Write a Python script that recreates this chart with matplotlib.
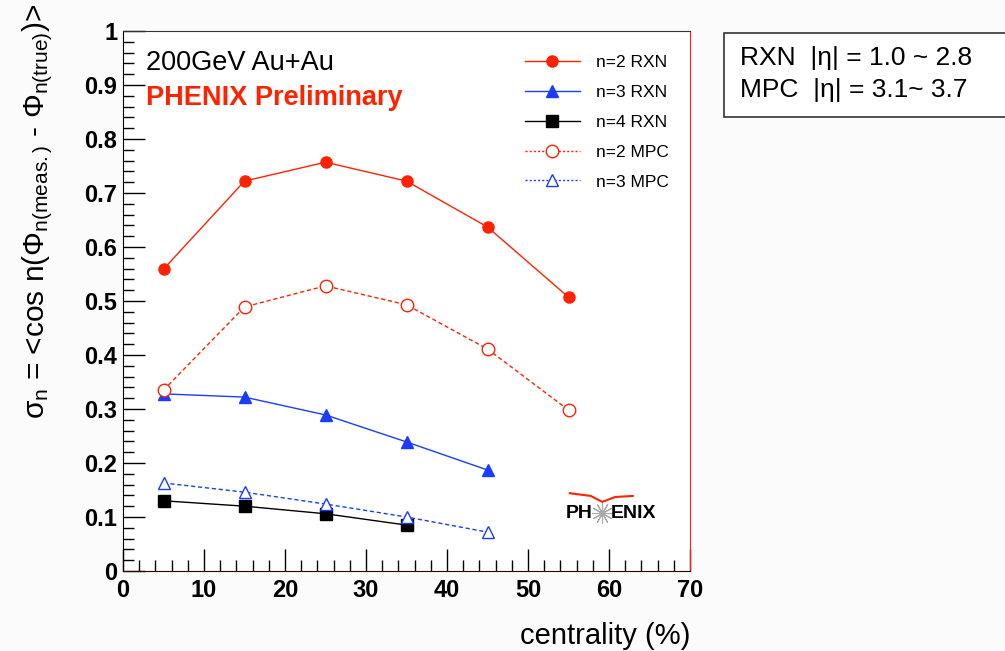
import numpy as np
import matplotlib.pyplot as plt
from matplotlib.ticker import MultipleLocator
from matplotlib.patches import Rectangle

plt.rcParams['font.family'] = ['Liberation Sans', 'DejaVu Sans']
plt.rcParams['mathtext.fontset'] = 'custom'
plt.rcParams['mathtext.rm'] = 'Liberation Sans'
plt.rcParams['mathtext.it'] = 'Liberation Sans'

# centrality bin centres (%)
cent6 = [5, 15, 25, 35, 45, 55]
cent5 = [5, 15, 25, 35, 45]
cent4 = [5, 15, 25, 35]

n2_rxn = [0.559, 0.722, 0.757, 0.722, 0.637, 0.507]
n3_rxn = [0.328, 0.322, 0.289, 0.239, 0.187]
n4_rxn = [0.130, 0.120, 0.106, 0.085]
n2_mpc = [0.335, 0.489, 0.528, 0.493, 0.411, 0.298]
n3_mpc = [0.163, 0.146, 0.124, 0.100, 0.072]

red = "#ff2200"
blue = "#1a3cff"

fig = plt.figure(figsize=(10.05, 6.51), dpi=100, facecolor="#fbfbfb")
ax = fig.add_axes([0.1224, 0.1229, 0.5642, 0.8295])
ax.set_facecolor("white")

ax.plot(cent6, n2_rxn, color=red, lw=1, marker="o", ms=8, label="n=2 RXN")
ax.plot(cent5, n3_rxn, color=blue, lw=1, marker="^", ms=8, label="n=3 RXN")
ax.plot(cent4, n4_rxn, color="black", lw=1, marker="s", ms=8, label="n=4 RXN")
ax.plot(cent6, n2_mpc, color=red, lw=1, ls=(0, (3, 2)), marker="o", ms=9,
        mfc="white", mec=red, label="n=2 MPC")
ax.plot(cent5, n3_mpc, color=blue, lw=1, ls=(0, (3, 2)), marker="^", ms=9,
        mfc="white", mec=blue, label="n=3 MPC")

ax.set_xlim(0, 70)
ax.set_ylim(0, 1)
ax.xaxis.set_major_locator(MultipleLocator(10))
ax.xaxis.set_minor_locator(MultipleLocator(2))
ax.yaxis.set_minor_locator(MultipleLocator(0.02))
ax.set_yticks(np.arange(0, 1.01, 0.1))
ax.set_yticklabels(["0", "0.1", "0.2", "0.3", "0.4", "0.5", "0.6", "0.7", "0.8", "0.9", "1"])
ax.tick_params(which="both", direction="in", top=False, right=False)
ax.tick_params(which="major", length=16, width=1, labelsize=17, pad=4)
ax.tick_params(axis="x", which="major", pad=6)
ax.tick_params(which="minor", length=8, width=1)
for lab in ax.get_xticklabels() + ax.get_yticklabels():
    lab.set_fontweight("bold")

ax.spines["right"].set_color(red)
ax.spines["bottom"].set_color("#330000")
ax.spines["left"].set_color("black")
ax.spines["top"].set_color("#333333")

ax.set_xlabel("centrality (%)", fontsize=21, loc="right", labelpad=14)
fig.text(0.038, 0.995,
         r"$\sigma_n$ = <cos n($\Phi_{n(meas.)}$ - $\Phi_{n(true)}$)>",
         rotation=90, fontsize=21.5, ha="center", va="top")

ax.text(0.04, 0.94, "200GeV Au+Au", transform=ax.transAxes, fontsize=19.5,
        va="center")
ax.text(0.04, 0.876, "PHENIX Preliminary", transform=ax.transAxes,
        fontsize=19.5, fontweight="bold", color=red, va="center")

ax.legend(loc="upper right", bbox_to_anchor=(0.99, 0.985), frameon=False,
          fontsize=12.5, handlelength=3.2, handletextpad=0.9, labelspacing=0.85,
          numpoints=1)
leg = ax.get_legend()
for h in leg.get_lines()[3:]:
    h.set_linestyle((0, (1.5, 1.5)))

# PHENIX logo
ax.text(0.829, 0.107, "PH", transform=ax.transAxes, fontsize=14,
        fontweight="bold", ha="right", va="center")
ax.text(0.861, 0.107, "ENIX", transform=ax.transAxes, fontsize=14,
        fontweight="bold", ha="left", va="center")
ax.plot([0.845], [0.107], transform=ax.transAxes, marker=(12, 2, 0), ms=15,
        color="#aaaaaa", mew=0.8)
arc_x = np.array([0.788, 0.825, 0.845, 0.868, 0.899])
arc_y = np.array([0.144, 0.139, 0.128, 0.137, 0.139])
ax.plot(arc_x, arc_y, transform=ax.transAxes, color=red, lw=1.5)

# eta acceptance box
fig.patches.append(Rectangle((0.720, 0.820), 0.30, 0.129, transform=fig.transFigure,
                             fc="white", ec="#333333", lw=1.2))
fig.text(0.736, 0.911, "RXN  |η| = 1.0 ~ 2.8", fontsize=19, va="center", ha="left")
fig.text(0.736, 0.862, "MPC  |η| = 3.1~ 3.7", fontsize=19, va="center", ha="left")

fig.savefig("out.png", dpi=100, facecolor=fig.get_facecolor())
